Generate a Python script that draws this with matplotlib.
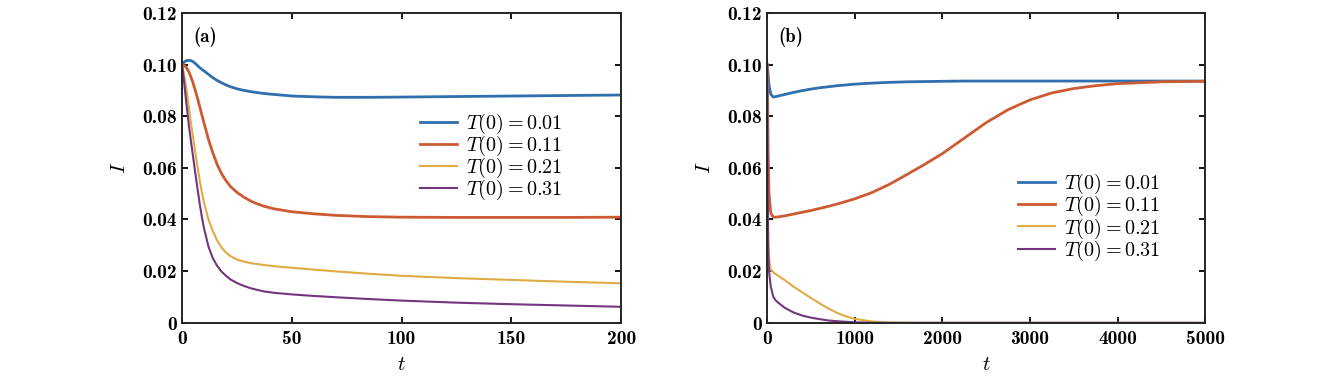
import matplotlib
matplotlib.use("Agg")
import matplotlib.pyplot as plt

plt.rcParams['mathtext.fontset'] = 'cm'
plt.rcParams['font.family'] = 'cmb10'
plt.rcParams['axes.formatter.use_mathtext'] = True

# Dados
rotulos = [r"$T(0)=\mathbf{0.01}$", r"$T(0)=\mathbf{0.11}$",
           r"$T(0)=\mathbf{0.21}$", r"$T(0)=\mathbf{0.31}$"]
cores = ["#2f6fae", "#cc5a33", "#e0aa45", "#74357f"]
larguras = [2.0, 2.0, 1.5, 1.5]

# painel (a)
t_a = [0, 1, 2, 3, 4, 5, 6, 7, 8, 9, 10, 12, 14, 16, 18, 20, 22, 25, 28, 32, 37, 42, 50,
       60, 70, 85, 100, 125, 150, 175, 200]
I_a_001 = [0.1000, 0.1010, 0.1015, 0.1016, 0.1015, 0.1011, 0.1004, 0.0996, 0.0988, 0.0981, 0.0975,
           0.0962, 0.0949, 0.0938, 0.0929, 0.0921, 0.0914, 0.0906, 0.0900, 0.0894, 0.0888, 0.0884,
           0.0878, 0.0875, 0.0873, 0.0873, 0.0874, 0.0876, 0.0878, 0.0880, 0.0882]
I_a_011 = [0.1000, 0.0996, 0.0988, 0.0973, 0.0952, 0.0928, 0.0900, 0.0870, 0.0838, 0.0805, 0.0773,
           0.0710, 0.0658, 0.0612, 0.0577, 0.0550, 0.0528, 0.0505, 0.0487, 0.0468, 0.0452, 0.0441,
           0.0430, 0.0422, 0.0416, 0.0411, 0.0409, 0.0408, 0.0408, 0.0408, 0.0409]
I_a_021 = [0.1000, 0.0955, 0.0905, 0.0840, 0.0775, 0.0718, 0.0660, 0.0605, 0.0553, 0.0505, 0.0465,
           0.0400, 0.0355, 0.0318, 0.0292, 0.0272, 0.0258, 0.0245, 0.0237, 0.0230, 0.0224, 0.0219,
           0.0213, 0.0206, 0.0199, 0.0190, 0.0182, 0.0173, 0.0166, 0.0159, 0.0153]
I_a_031 = [0.1000, 0.0925, 0.0845, 0.0770, 0.0705, 0.0643, 0.0580, 0.0520, 0.0462, 0.0410, 0.0365,
           0.0295, 0.0250, 0.0220, 0.0198, 0.0182, 0.0168, 0.0154, 0.0143, 0.0132, 0.0122, 0.0116,
           0.0110, 0.0104, 0.0099, 0.0092, 0.0086, 0.0078, 0.0072, 0.0067, 0.0062]

# painel (b)
t_b = [0, 10, 20, 40, 70, 100, 200, 300, 400, 500, 600, 700, 800, 900, 1000, 1200, 1400, 1600,
       1800, 2000, 2250, 2500, 2750, 3000, 3250, 3500, 3750, 4000, 4500, 5000]
I_b_001 = [0.1000, 0.0960, 0.0920, 0.0885, 0.0874, 0.0876, 0.0884, 0.0892, 0.0899, 0.0905, 0.0910,
           0.0914, 0.0918, 0.0921, 0.0924, 0.0928, 0.0931, 0.0933, 0.0934, 0.0935, 0.0936, 0.0936,
           0.0936, 0.0936, 0.0936, 0.0936, 0.0936, 0.0936, 0.0936, 0.0936]
I_b_011 = [0.1000, 0.0660, 0.0500, 0.0425, 0.0409, 0.0409, 0.0414, 0.0421, 0.0428, 0.0435, 0.0443,
           0.0451, 0.0460, 0.0470, 0.0480, 0.0505, 0.0537, 0.0575, 0.0614, 0.0655, 0.0715, 0.0775,
           0.0825, 0.0863, 0.0890, 0.0907, 0.0918, 0.0926, 0.0933, 0.0935]
I_b_021 = [0.1000, 0.0350, 0.0250, 0.0205, 0.0195, 0.0188, 0.0165, 0.0140, 0.0118, 0.0096, 0.0075,
           0.0055, 0.0038, 0.0025, 0.0015, 0.0005, 0.0001, 0, 0, 0, 0, 0, 0, 0, 0, 0, 0, 0, 0, 0]
I_b_031 = [0.1000, 0.0300, 0.0200, 0.0140, 0.0100, 0.0085, 0.0058, 0.0040, 0.0028, 0.0020, 0.0014,
           0.0009, 0.0006, 0.0004, 0.0002, 0, 0, 0, 0, 0, 0, 0, 0, 0, 0, 0, 0, 0, 0, 0]

yticks = [0, 0.02, 0.04, 0.06, 0.08, 0.10, 0.12]
ytick_labels = ["0", "0.02", "0.04", "0.06", "0.08", "0.10", "0.12"]
xticks_a = [0, 50, 100, 150, 200]
xticks_b = [0, 1000, 2000, 3000, 4000, 5000]

fig = plt.figure(figsize=(13.39, 3.78), dpi=100)
ax1 = fig.add_axes([0.136, 0.146, 0.328, 0.820])
ax2 = fig.add_axes([0.573, 0.146, 0.327, 0.820])

paineis = [
    (ax1, t_a, [I_a_001, I_a_011, I_a_021, I_a_031], xticks_a, "(a)", (0.542, 0.68)),
    (ax2, t_b, [I_b_001, I_b_011, I_b_021, I_b_031], xticks_b, "(b)", (0.573, 0.486)),
]

for ax, t, series, xticks, letra, pos_leg in paineis:
    for y, c, lw, lab in zip(series, cores, larguras, rotulos):
        ax.plot(t, y, color=c, lw=lw, label=lab)
    ax.set_xlim(xticks[0], xticks[-1])
    ax.set_ylim(0, 0.12)
    ax.set_xticks(xticks)
    ax.set_xticklabels([str(v) for v in xticks])
    ax.set_yticks(yticks)
    ax.set_yticklabels(ytick_labels)
    ax.tick_params(direction='in', top=True, right=True, length=4, width=1.3, labelsize=14)
    ax.tick_params(axis='x', pad=5)
    ax.tick_params(axis='y', pad=4)
    for s in ax.spines.values():
        s.set_linewidth(1.4)
        s.set_color('#262626')
    ax.set_xlabel("$t$", fontsize=15, labelpad=5)
    ax.set_ylabel("$I$", fontsize=15, labelpad=9)
    ax.text(0.025, 0.955, letra, transform=ax.transAxes, fontsize=13.5, va='top', ha='left')
    ax.legend(loc='upper left', bbox_to_anchor=pos_leg, frameon=False, fontsize=14.5,
              handlelength=1.85, handletextpad=0.45, labelspacing=-0.1, borderpad=0, borderaxespad=0)

plt.savefig("out.png", dpi=100)
plt.close()
